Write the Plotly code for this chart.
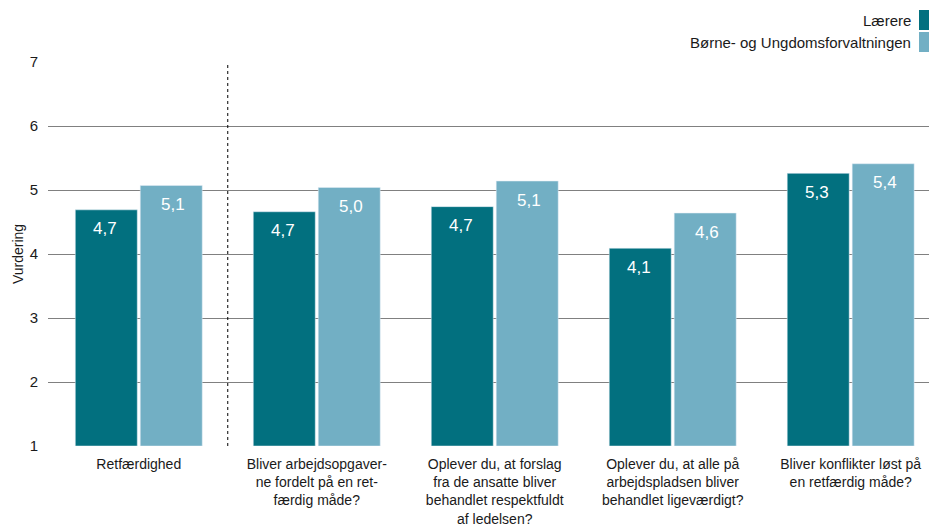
import plotly.graph_objects as go

categories = [
    "Retfærdighed",
    "Bliver arbejdsopgaver-<br>ne fordelt på en ret-<br>færdig måde?",
    "Oplever du, at forslag<br>fra de ansatte bliver<br>behandlet respektfuldt<br>af ledelsen?",
    "Oplever du, at alle på<br>arbejdspladsen bliver<br>behandlet ligeværdigt?",
    "Bliver konflikter løst på<br>en retfærdig måde?",
]
series_names = ["Lærere", "Børne- og Ungdomsforvaltningen"]
laerere = [4.69, 4.66, 4.74, 4.09, 5.26]
buf = [5.07, 5.04, 5.14, 4.64, 5.41]
laerere_labels = ["4,7", "4,7", "4,7", "4,1", "5,3"]
buf_labels = ["5,1", "5,0", "5,1", "4,6", "5,4"]
y_ticks = [1, 2, 3, 4, 5, 6, 7]

colors = ["#02707F", "#72AFC4"]
FONT = "Liberation Sans"
TXT = "#1a1a1a"

x = list(range(len(categories)))
fig = go.Figure()
annotations = []
for vals, labels, name, col, shift in [(laerere, laerere_labels, series_names[0], colors[0], -34),
                                        (buf, buf_labels, series_names[1], colors[1], 34)]:
    fig.add_trace(go.Bar(
        x=x, y=[v - 1 for v in vals], base=1, name=name, marker_color=col,
        showlegend=False, hoverinfo="skip",
    ))
    for xi, v, lab in zip(x, vals, labels):
        annotations.append(dict(
            x=xi, y=v, xref="x", yref="y", text=lab, showarrow=False,
            xshift=shift, yshift=-19, xanchor="center", yanchor="middle",
            font=dict(color="white", size=17, family=FONT),
        ))

H = 384.0  # plot height in px
for i, name in enumerate(series_names):
    yc = 62 - (20 + 22 * i)  # px above plot top
    annotations.append(dict(
        text=name, xref="paper", yref="paper", x=1.0 - 16 / 881, y=1 + yc / H,
        xanchor="right", yanchor="middle", showarrow=False,
        font=dict(size=15, family=FONT, color=TXT),
    ))

shapes = [
    dict(type="line", xref="x", yref="y", x0=0.5, x1=0.5, y0=1, y1=7.03,
         line=dict(color="black", width=1, dash="dot")),
]
for i in range(2):
    yc = 62 - (20 + 22 * i)
    shapes.append(dict(
        type="rect", xref="paper", yref="paper", x0=1.0 - 10 / 881, x1=1.0,
        y0=1 + (yc - 10) / H, y1=1 + (yc + 10) / H,
        fillcolor=colors[i], line=dict(width=0), layer="above",
    ))

fig.update_layout(
    width=929, height=528,
    margin=dict(l=48, r=0, t=62, b=82, autoexpand=False),
    plot_bgcolor="white", paper_bgcolor="white",
    barmode="group", bargap=0.27, bargroupgap=0.046,
    font=dict(family=FONT, size=14, color=TXT),
    xaxis=dict(
        range=[-0.51, 4.44], tickmode="array", tickvals=x, ticktext=categories,
        showgrid=False, zeroline=False, showline=False, ticks="",
        tickfont=dict(size=14, family=FONT, color=TXT), automargin=False,
        ticklabelstandoff=8,
    ),
    yaxis=dict(
        range=[1, 7], tickvals=y_ticks, showgrid=True, gridcolor="#808080",
        gridwidth=1, zeroline=False, showline=False, ticks="",
        tickfont=dict(size=15, family=FONT, color=TXT), automargin=False,
        ticklabelstandoff=9,
        title=dict(text="Vurdering", font=dict(size=14, family=FONT, color=TXT), standoff=2),
    ),
    shapes=shapes,
    annotations=annotations,
)

fig.write_html(
    "out.html",
    config={"displayModeBar": False},
    post_script="document.body.style.margin='0';document.body.style.overflow='hidden';",
)
